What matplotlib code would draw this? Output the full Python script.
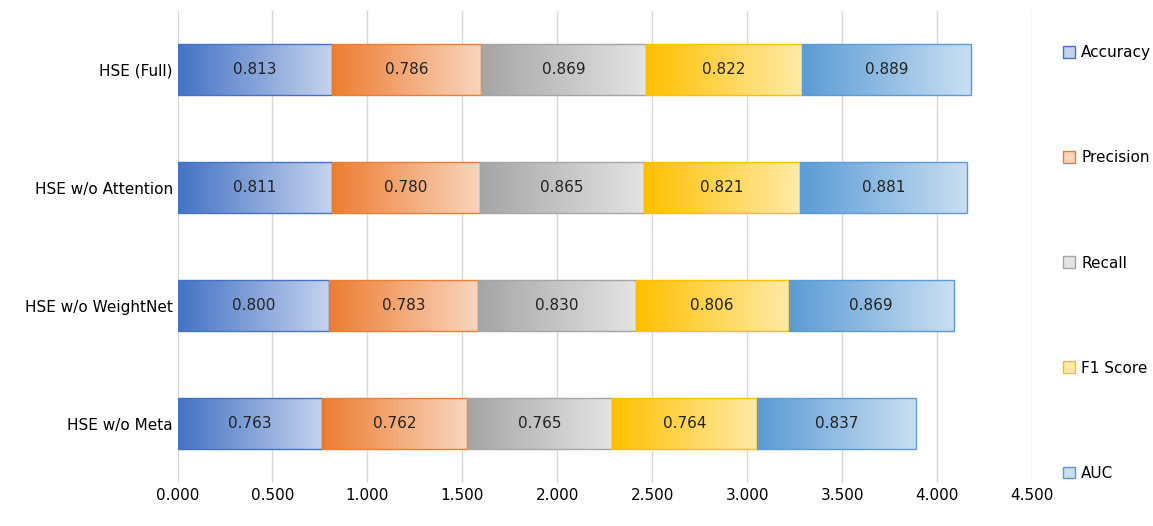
import matplotlib.pyplot as plt
import numpy as np
from matplotlib.colors import LinearSegmentedColormap
from matplotlib.patches import Patch

models = ["HSE (Full)", "HSE w/o Attention", "HSE w/o WeightNet", "HSE w/o Meta"]
metrics = ["Accuracy", "Precision", "Recall", "F1 Score", "AUC"]
accuracy = [0.813, 0.811, 0.800, 0.763]
precision = [0.786, 0.780, 0.783, 0.762]
recall = [0.869, 0.865, 0.830, 0.765]
f1 = [0.822, 0.821, 0.806, 0.764]
auc = [0.889, 0.881, 0.869, 0.837]
series = [accuracy, precision, recall, f1, auc]

dark = ["#4472C4", "#ED7D31", "#A5A5A5", "#FFC000", "#5B9BD5"]
light = ["#C5D3EE", "#F9D5BE", "#E4E4E4", "#FFEBA8", "#C9DFF2"]

fig = plt.figure(figsize=(11.53, 5.26), dpi=100)
ax = fig.add_axes([0.154, 0.082, 0.741, 0.898])

ypos = np.arange(len(models))[::-1]
h = 0.43
grad = np.linspace(0, 1, 256).reshape(1, -1)
left = np.zeros(len(models))
for vals, c0, c1 in zip(series, dark, light):
    cmap = LinearSegmentedColormap.from_list("g", [c0, c1])
    for i, (y, v) in enumerate(zip(ypos, vals)):
        ax.imshow(grad, cmap=cmap, aspect="auto", zorder=2,
                  extent=[left[i], left[i] + v, y - h / 2, y + h / 2])
        ax.text(left[i] + v / 2, y, f"{v:.3f}", ha="center", va="center",
                fontsize=11, color="#222222", zorder=4)
    ax.barh(ypos, vals, h, left=left, facecolor="none", edgecolor=c0,
            linewidth=1, zorder=3)
    left += np.array(vals)

ax.set_xlim(0, 4.5)
ax.set_ylim(-0.5, 3.5)
ax.set_xticks(np.arange(0, 4.51, 0.5))
ax.set_xticklabels([f"{t:.3f}" for t in np.arange(0, 4.51, 0.5)], fontsize=11)
ax.set_yticks(ypos)
ax.set_yticklabels(models, fontsize=11)
ax.tick_params(length=0)
ax.grid(axis="x", color="#D9D9D9", linewidth=1, zorder=0)
ax.set_axisbelow(True)
for s in ax.spines.values():
    s.set_visible(False)

handles = [Patch(facecolor=c1, edgecolor=c0) for c0, c1 in zip(dark, light)]
fig.legend(handles, metrics, loc="center left", bbox_to_anchor=(0.91, 0.5),
           frameon=False, fontsize=11, labelspacing=5.9, handlelength=0.8,
           handleheight=0.8, handletextpad=0.4)

fig.savefig("out.png", dpi=100)
